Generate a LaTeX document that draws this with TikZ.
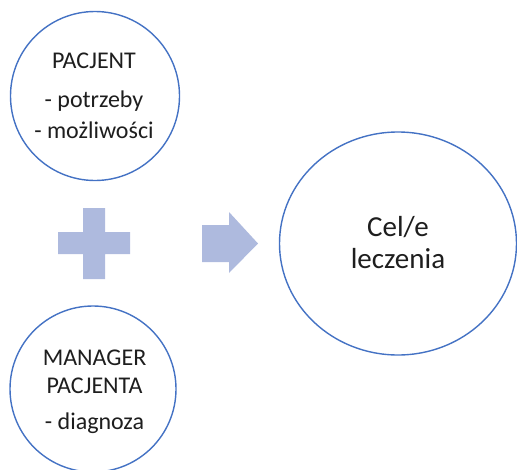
\documentclass[tikz,border=0pt]{standalone}
\usepackage{fontspec}
\setmainfont{Carlito}
\usetikzlibrary{shapes.geometric}
\definecolor{ringblue}{RGB}{68,114,196}
\definecolor{shapefill}{RGB}{174,186,222}
\definecolor{txt}{RGB}{30,30,30}
\tikzset{
  ring/.style={draw=ringblue, line width=1.4pt, fill=white, inner sep=0pt},
  smalltxt/.style={anchor=base, inner sep=0pt, text=txt, font=\fontsize{24}{28}\selectfont},
  bigtxt/.style={anchor=base, inner sep=0pt, text=txt, font=\fontsize{29}{33}\selectfont},
  symfill/.style={fill=shapefill, draw=none}
}
\begin{document}
\begin{tikzpicture}[x=1pt,y=-1pt]
\useasboundingbox (0,0) rectangle (517,469);
% circles
\node[ring, circle, minimum size=169pt] (pac) at (95,96) {};
\node[ring, circle, minimum size=166pt] (man) at (93,389) {};
\node[ring, ellipse, minimum width=237pt, minimum height=223pt] (cel) at (398,243.5) {};
% plus
\fill[symfill] (83,208) -- (105,208) -- (105,232) -- (130,232) -- (130,254) -- (105,254)
  -- (105,279) -- (83,279) -- (83,254) -- (58,254) -- (58,232) -- (83,232) -- cycle;
% arrow
\fill[symfill] (202,225) -- (229,225) -- (229,212) -- (258,243.5) -- (229,273) -- (229,262) -- (202,262) -- cycle;
% texts
\node[smalltxt] (t1) at (94,68) {PACJENT};
\node[smalltxt] (t2) at (94,107) {- potrzeby};
\node[smalltxt] (t3) at (94,138) {- możliwości};
\node[smalltxt] (t4) at (94.5,365) {MANAGER};
\node[smalltxt] (t5) at (94.5,393) {PACJENTA};
\node[smalltxt] (t6) at (94.5,429) {- diagnoza};
\node[bigtxt] (t7) at (398,236) {Cel/e};
\node[bigtxt] (t8) at (398,268) {leczenia};
\end{tikzpicture}
\end{document}
